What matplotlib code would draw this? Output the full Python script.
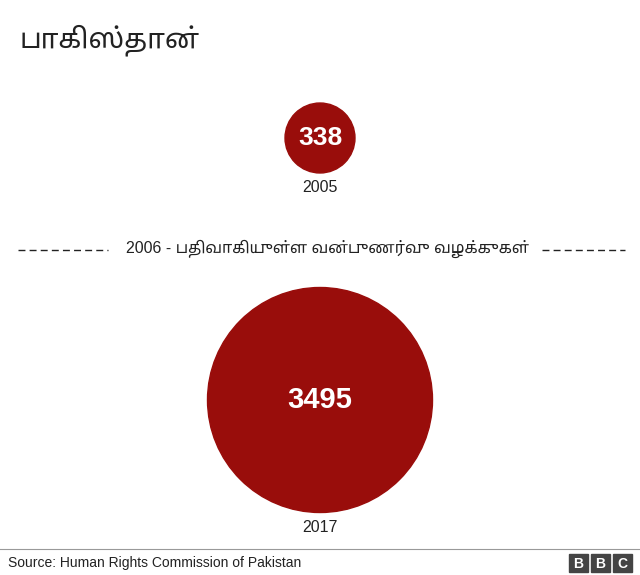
import matplotlib.pyplot as plt
from matplotlib.patches import Circle, Rectangle
import numpy as np

title = "பாகிஸ்தான்"
years = ["2005", "2017"]
values = [338, 3495]
divider_text = "2006 - பதிவாகியுள்ள வன்புணர்வு வழக்குகள்"
source = "Source: Human Rights Commission of Pakistan"

plt.rcParams['font.family'] = ['Liberation Sans', 'Noto Sans Tamil', 'DejaVu Sans']
red = "#990d0b"

fig = plt.figure(figsize=(6.4, 5.75), dpi=100)
ax = fig.add_axes([0, 0, 1, 1])
ax.set_xlim(0, 640)
ax.set_ylim(575, 0)
ax.axis("off")

k = 112.5 / np.sqrt(max(values))
centers = [138, 400]
for v, yr, cy in zip(values, years, centers):
    r = k * np.sqrt(v)
    ax.add_patch(Circle((320, cy), r, color=red))
    ax.text(320, cy, str(v), color="white", fontsize=19 if v < 1000 else 21,
            fontweight="bold", ha="center", va="center")
    ax.text(320, cy + r + 15, yr, fontsize=11.5, ha="center", va="center", color="#222222")

ax.text(20, 40, title, fontsize=20, ha="left", va="center", color="#222222")

ax.plot([18, 108], [250, 250], ls=(0, (5, 3)), color="#222222", lw=1)
ax.plot([542, 625], [250, 250], ls=(0, (5, 3)), color="#222222", lw=1)
ax.text(328, 249, divider_text, fontsize=11.5, ha="center", va="center", color="#222222")

ax.plot([0, 640], [549, 549], color="#999999", lw=0.8)
ax.text(8, 563, source, fontsize=10, ha="left", va="center", color="#222222")
for i, ch in enumerate("BBC"):
    x0 = 569 + i * 22
    ax.add_patch(Rectangle((x0, 554), 19, 18, color="#444444"))
    ax.text(x0 + 9.5, 563.5, ch, color="white", fontsize=10, fontweight="bold",
            ha="center", va="center")

fig.savefig("out.png", dpi=100)
